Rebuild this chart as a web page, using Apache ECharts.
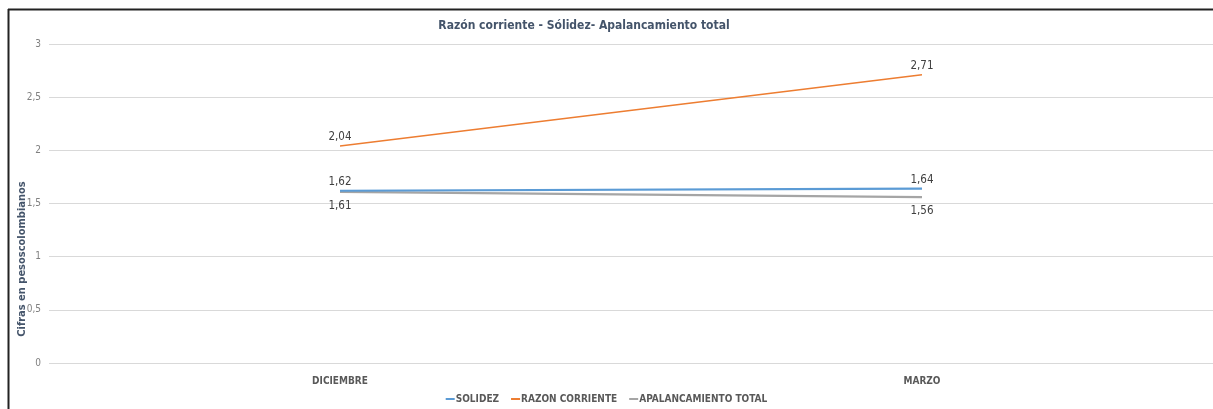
<!DOCTYPE html>
<html><head><meta charset="utf-8">
<script src="https://cdn.jsdelivr.net/npm/echarts@6/dist/echarts.min.js"></script>
<style>html,body{margin:0;padding:0;background:#fff}#c{width:1213px;height:409px}</style>
</head><body><div id="c"></div>
<script>
const categories = ['DICIEMBRE', 'MARZO'];
const solidez = [1.62, 1.64];
const razonCorriente = [2.04, 2.71];
const apalancamiento = [1.61, 1.56];
const seriesNames = ['SOLIDEZ', 'RAZON CORRIENTE', 'APALANCAMIENTO TOTAL'];
const titleText = 'Razón corriente - Sólidez- Apalancamiento total';
const yAxisTitle = 'Cifras en pesoscolombianos';

const narrow = '"Liberation Sans Narrow", "DejaVu Sans Condensed", "Noto Sans", sans-serif';
const fmt = v => String(v).replace('.', ',');
const chart = echarts.init(document.getElementById('c'), null, {renderer: 'canvas'});
function lbl(pos, d) {
  return {show: true, position: pos, distance: d, color: '#404040', fontSize: 11.5,
    fontFamily: narrow, formatter: p => fmt(p.value)};
}
chart.setOption({
  animation: false,
  title: {text: titleText, left: 579, top: 15, textAlign: 'center',
    textStyle: {fontSize: 12, fontWeight: 'bold', color: '#44546A', fontFamily: narrow}},
  legend: {bottom: 0, left: 'center', itemWidth: 9, itemHeight: 2, icon: 'rect', itemGap: 12,
    textStyle: {fontSize: 10, color: '#595959', fontFamily: narrow, fontWeight: 'bold', padding: [0, 0, 0, -4]},
    data: seriesNames},
  grid: {left: 49, right: 0, top: 44, bottom: 46},
  xAxis: {type: 'category', data: categories, boundaryGap: true,
    axisLine: {show: false}, axisTick: {show: false},
    axisLabel: {color: '#595959', fontSize: 10, fontWeight: 'bold', fontFamily: narrow, margin: 13}},
  yAxis: {type: 'value', min: 0, max: 3, interval: 0.5,
    axisLine: {show: false}, axisTick: {show: false},
    splitLine: {lineStyle: {color: '#D9D9D9', width: 1}},
    axisLabel: {color: '#808080', fontSize: 10, fontFamily: narrow, margin: 8, formatter: v => fmt(v)}},
  graphic: [
    {type: 'line', shape: {x1: 8, y1: 9.5, x2: 1213, y2: 9.5}, style: {stroke: '#222', lineWidth: 2}},
    {type: 'line', shape: {x1: 8.5, y1: 9, x2: 8.5, y2: 409}, style: {stroke: '#222', lineWidth: 2}},
    {type: 'text', x: 22, y: 259, rotation: Math.PI / 2,
      style: {text: yAxisTitle, fill: '#44546A', font: 'bold 11px ' + narrow, align: 'center', verticalAlign: 'middle'}}
  ],
  series: [
    {name: seriesNames[0], type: 'line', data: solidez, symbol: 'circle', symbolSize: 0, showSymbol: true, z: 3,
      lineStyle: {color: '#5B9BD5', width: 2.2}, itemStyle: {color: '#5B9BD5'}, label: lbl('top', 3)},
    {name: seriesNames[1], type: 'line', data: razonCorriente, symbol: 'circle', symbolSize: 0, showSymbol: true,
      lineStyle: {color: '#ED7D31', width: 1.5}, itemStyle: {color: '#ED7D31'}, label: lbl('top', 3)},
    {name: seriesNames[2], type: 'line', data: apalancamiento, symbol: 'circle', symbolSize: 0, showSymbol: true, z: 2,
      lineStyle: {color: '#A5A5A5', width: 2.2}, itemStyle: {color: '#A5A5A5'}, label: lbl('bottom', 8)}
  ]
});
</script></body></html>
